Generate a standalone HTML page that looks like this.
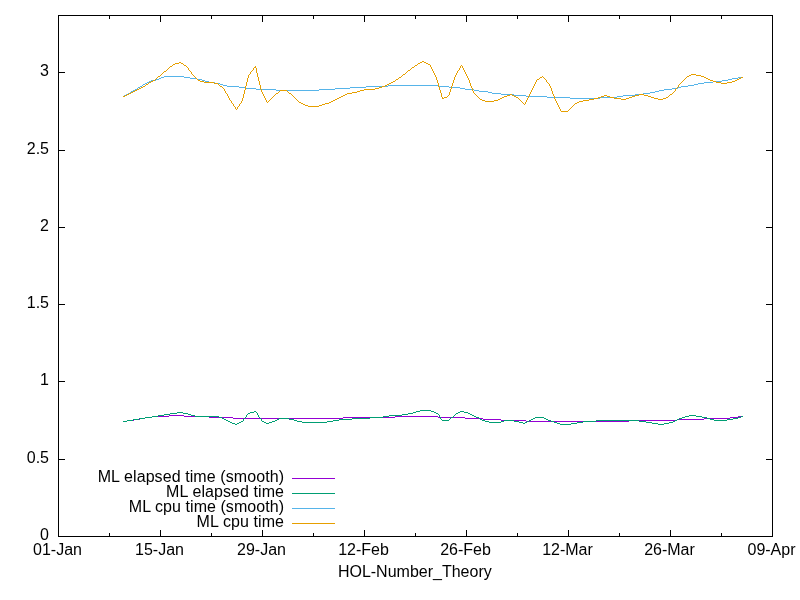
<!DOCTYPE html>
<html><head><meta charset="utf-8"><style>
html,body{margin:0;padding:0;background:#fff;width:800px;height:600px;overflow:hidden}
svg{display:block;will-change:transform}
text{font-family:"Liberation Sans",Arial,sans-serif;font-size:16px;fill:#000}
</style></head><body>
<svg width="800" height="600" viewBox="0 0 800 600">
<rect x="0" y="0" width="800" height="600" fill="#fff"/>
<path d="M59,459h6v1h-6zM766,459h6v1h-6zM59,381h6v1h-6zM766,381h6v1h-6zM59,304h6v1h-6zM766,304h6v1h-6zM59,227h6v1h-6zM766,227h6v1h-6zM59,150h6v1h-6zM766,150h6v1h-6zM59,72h6v1h-6zM766,72h6v1h-6zM109,533h1v3h-1zM109,16h1v3h-1zM160,530h1v6h-1zM160,16h1v6h-1zM211,533h1v3h-1zM211,16h1v3h-1zM262,530h1v6h-1zM262,16h1v6h-1zM313,533h1v3h-1zM313,16h1v3h-1zM364,530h1v6h-1zM364,16h1v6h-1zM415,533h1v3h-1zM415,16h1v3h-1zM466,530h1v6h-1zM466,16h1v6h-1zM517,533h1v3h-1zM517,16h1v3h-1zM568,530h1v6h-1zM568,16h1v6h-1zM619,533h1v3h-1zM619,16h1v3h-1zM670,530h1v6h-1zM670,16h1v6h-1zM721,533h1v3h-1zM721,16h1v3h-1zM58,15h715v1h-715zM58,536h715v1h-715zM58,16h1v520h-1zM772,16h1v520h-1z" fill="#000" shape-rendering="crispEdges"/>
<path d="M292,478h43v1h-43z" fill="#9400d3" shape-rendering="crispEdges"/>
<path d="M292,493h43v1h-43z" fill="#009e73" shape-rendering="crispEdges"/>
<path d="M292,508h43v1h-43z" fill="#56b4e9" shape-rendering="crispEdges"/>
<path d="M292,523h43v1h-43z" fill="#e69f00" shape-rendering="crispEdges"/>
<path d="M123,421h4v1h-4zM127,420h7v1h-7zM134,419h6v1h-6zM140,418h5v1h-5zM145,417h7v1h-7zM152,416h17v1h-17zM169,415h15v1h-15zM184,416h25v1h-25zM209,417h24v1h-24zM233,418h110v1h-110zM343,417h52v1h-52zM395,416h43v1h-43zM438,417h27v1h-27zM465,418h18v1h-18zM483,419h18v1h-18zM501,420h25v1h-25zM526,421h103v1h-103zM629,420h48v1h-48zM677,419h27v1h-27zM704,418h26v1h-26zM730,417h8v1h-8zM738,416h3v1h-3z" fill="#9400d3" shape-rendering="crispEdges"/>
<path d="M123,421h4v1h-4zM127,420h6v1h-6zM133,419h6v1h-6zM139,418h6v1h-6zM145,417h7v1h-7zM152,416h6v1h-6zM158,415h6v1h-6zM164,414h6v1h-6zM170,413h7v1h-7zM177,412h6v1h-6zM183,413h5v1h-5zM188,414h3v1h-3zM191,415h4v1h-4zM195,416h24v1h-24zM219,417h3v1h-3zM222,418h2v1h-2zM224,419h2v1h-2zM226,420h2v1h-2zM228,421h2v1h-2zM230,422h2v1h-2zM232,423h3v1h-3zM235,424h2v1h-2zM237,423h2v1h-2zM239,422h2v1h-2zM241,421h2v1h-2zM243,420h1v1h-1zM243,419h1v1h-1zM244,418h1v1h-1zM245,417h1v1h-1zM246,416h1v1h-1zM246,415h1v1h-1zM247,414h1v1h-1zM248,413h2v1h-2zM250,412h4v1h-4zM254,411h2v1h-2zM256,412h1v1h-1zM257,413h1v1h-1zM257,414h1v1h-1zM258,415h1v1h-1zM258,416h1v1h-1zM259,417h1v1h-1zM260,418h1v1h-1zM261,419h1v1h-1zM261,420h1v1h-1zM262,421h2v1h-2zM264,422h2v1h-2zM266,423h3v1h-3zM269,422h3v1h-3zM272,421h3v1h-3zM275,420h2v1h-2zM277,419h2v1h-2zM279,418h10v1h-10zM289,419h5v1h-5zM294,420h3v1h-3zM297,421h5v1h-5zM302,422h25v1h-25zM327,421h6v1h-6zM333,420h6v1h-6zM339,419h13v1h-13zM352,418h18v1h-18zM370,417h13v1h-13zM383,416h6v1h-6zM389,415h13v1h-13zM402,414h6v1h-6zM408,413h5v1h-5zM413,412h3v1h-3zM416,411h4v1h-4zM420,410h11v1h-11zM431,411h3v1h-3zM434,412h2v1h-2zM436,413h2v1h-2zM438,414h1v1h-1zM439,415h1v1h-1zM439,416h1v1h-1zM440,417h1v1h-1zM440,418h1v1h-1zM441,419h1v1h-1zM442,420h7v1h-7zM449,419h1v1h-1zM450,418h1v1h-1zM451,417h2v1h-2zM453,416h1v1h-1zM454,415h1v1h-1zM455,414h1v1h-1zM456,413h2v1h-2zM458,412h2v1h-2zM460,411h4v1h-4zM464,412h4v1h-4zM468,413h2v1h-2zM470,414h2v1h-2zM472,415h2v1h-2zM474,416h2v1h-2zM476,417h3v1h-3zM479,418h1v1h-1zM480,419h2v1h-2zM482,420h3v1h-3zM485,421h4v1h-4zM489,422h12v1h-12zM501,421h3v1h-3zM504,420h10v1h-10zM514,421h5v1h-5zM519,422h4v1h-4zM523,423h2v1h-2zM525,422h2v1h-2zM527,421h2v1h-2zM529,420h2v1h-2zM531,419h2v1h-2zM533,418h2v1h-2zM535,417h9v1h-9zM544,418h2v1h-2zM546,419h2v1h-2zM548,420h3v1h-3zM551,421h3v1h-3zM554,422h3v1h-3zM557,423h3v1h-3zM560,424h11v1h-11zM571,423h6v1h-6zM577,422h6v1h-6zM583,421h13v1h-13zM596,420h43v1h-43zM639,421h7v1h-7zM646,422h6v1h-6zM652,423h6v1h-6zM658,424h6v1h-6zM664,423h5v1h-5zM669,422h4v1h-4zM673,421h2v1h-2zM675,420h2v1h-2zM677,419h2v1h-2zM679,418h3v1h-3zM682,417h3v1h-3zM685,416h4v1h-4zM689,415h7v1h-7zM696,416h6v1h-6zM702,417h5v1h-5zM707,418h3v1h-3zM710,419h4v1h-4zM714,420h13v1h-13zM727,419h6v1h-6zM733,418h5v1h-5zM738,417h3v1h-3zM741,416h2v1h-2z" fill="#009e73" shape-rendering="crispEdges"/>
<path d="M124,95h2v1h-2zM126,94h2v1h-2zM128,93h2v1h-2zM130,92h1v1h-1zM131,91h2v1h-2zM133,90h2v1h-2zM135,89h2v1h-2zM137,88h1v1h-1zM138,87h2v1h-2zM140,86h2v1h-2zM142,85h1v1h-1zM143,84h2v1h-2zM145,83h2v1h-2zM147,82h2v1h-2zM149,81h2v1h-2zM151,80h5v1h-5zM156,79h3v1h-3zM159,78h2v1h-2zM161,77h3v1h-3zM164,76h20v1h-20zM184,77h6v1h-6zM190,78h7v1h-7zM197,79h5v1h-5zM202,80h3v1h-3zM205,81h4v1h-4zM209,82h6v1h-6zM215,83h5v1h-5zM220,84h3v1h-3zM223,85h4v1h-4zM227,86h12v1h-12zM239,87h6v1h-6zM245,88h11v1h-11zM256,89h20v1h-20zM276,90h43v1h-43zM319,89h16v1h-16zM335,88h15v1h-15zM350,87h16v1h-16zM366,86h22v1h-22zM388,85h50v1h-50zM438,86h11v1h-11zM449,87h11v1h-11zM460,88h5v1h-5zM465,89h9v1h-9zM474,90h5v1h-5zM479,91h9v1h-9zM488,92h4v1h-4zM492,93h9v1h-9zM501,94h13v1h-13zM514,95h12v1h-12zM526,96h21v1h-21zM547,97h23v1h-23zM570,98h30v1h-30zM600,97h17v1h-17zM617,96h6v1h-6zM623,95h12v1h-12zM635,94h8v1h-8zM643,93h7v1h-7zM650,92h5v1h-5zM655,91h4v1h-4zM659,90h5v1h-5zM664,89h8v1h-8zM672,88h6v1h-6zM678,87h3v1h-3zM681,86h7v1h-7zM688,85h6v1h-6zM694,84h4v1h-4zM698,83h6v1h-6zM704,82h9v1h-9zM713,81h9v1h-9zM722,80h6v1h-6zM728,79h4v1h-4zM732,78h6v1h-6zM738,77h3v1h-3z" fill="#56b4e9" shape-rendering="crispEdges"/>
<path d="M123,96h2v1h-2zM125,95h2v1h-2zM127,94h2v1h-2zM129,93h2v1h-2zM131,92h2v1h-2zM133,91h2v1h-2zM135,90h2v1h-2zM137,89h2v1h-2zM139,88h2v1h-2zM141,87h2v1h-2zM143,86h2v1h-2zM145,85h1v1h-1zM146,84h2v1h-2zM148,83h1v1h-1zM149,82h2v1h-2zM151,81h2v1h-2zM153,80h2v1h-2zM155,79h1v1h-1zM156,78h1v1h-1zM157,77h1v1h-1zM158,76h2v1h-2zM160,75h1v1h-1zM161,74h1v1h-1zM162,73h1v1h-1zM163,72h1v1h-1zM164,71h2v1h-2zM166,70h1v1h-1zM167,69h1v1h-1zM168,68h1v1h-1zM169,67h1v1h-1zM170,66h2v1h-2zM172,65h1v1h-1zM173,64h2v1h-2zM175,63h4v1h-4zM179,62h2v1h-2zM181,63h2v1h-2zM183,64h1v1h-1zM184,65h2v1h-2zM186,66h1v1h-1zM187,67h1v1h-1zM188,68h1v2h-1zM189,70h1v1h-1zM190,71h1v1h-1zM191,72h1v2h-1zM192,74h1v1h-1zM193,75h1v1h-1zM194,76h1v1h-1zM195,77h1v1h-1zM196,78h1v1h-1zM197,79h1v1h-1zM198,80h2v1h-2zM200,81h4v1h-4zM204,82h10v1h-10zM214,83h4v1h-4zM218,84h1v1h-1zM219,85h1v1h-1zM220,86h2v1h-2zM222,87h1v1h-1zM223,88h1v1h-1zM224,89h1v2h-1zM225,91h1v2h-1zM226,93h1v1h-1zM227,94h1v2h-1zM228,96h1v2h-1zM229,98h1v2h-1zM230,100h1v1h-1zM231,101h1v2h-1zM232,103h1v1h-1zM233,104h1v2h-1zM234,106h1v1h-1zM235,107h1v2h-1zM236,109h1v1h-1zM237,107h1v2h-1zM238,106h1v1h-1zM239,104h1v2h-1zM240,103h1v1h-1zM241,101h1v2h-1zM242,98h1v3h-1zM243,94h1v4h-1zM244,90h1v4h-1zM245,86h1v4h-1zM246,82h1v4h-1zM247,78h1v4h-1zM248,75h1v3h-1zM249,74h1v1h-1zM250,72h1v2h-1zM251,71h1v1h-1zM252,70h1v1h-1zM253,68h1v2h-1zM254,67h1v1h-1zM255,66h1v2h-1zM256,68h1v5h-1zM257,73h1v4h-1zM258,77h1v4h-1zM259,81h1v4h-1zM260,85h1v4h-1zM261,89h1v3h-1zM262,92h1v2h-1zM263,94h1v2h-1zM264,96h1v2h-1zM265,98h1v2h-1zM266,100h1v2h-1zM267,102h1v1h-1zM268,101h1v1h-1zM269,100h1v1h-1zM270,99h1v1h-1zM271,98h1v1h-1zM272,97h1v1h-1zM273,96h1v1h-1zM274,95h1v1h-1zM275,94h1v1h-1zM276,93h2v1h-2zM278,92h1v1h-1zM279,91h1v1h-1zM280,90h7v1h-7zM287,91h1v1h-1zM288,92h1v1h-1zM289,93h2v1h-2zM291,94h1v1h-1zM292,95h1v1h-1zM293,96h1v1h-1zM294,97h1v1h-1zM295,98h1v1h-1zM296,99h1v1h-1zM297,100h1v1h-1zM298,101h1v1h-1zM299,102h2v1h-2zM301,103h2v1h-2zM303,104h2v1h-2zM305,105h3v1h-3zM308,106h11v1h-11zM319,105h3v1h-3zM322,104h3v1h-3zM325,103h4v1h-4zM329,102h2v1h-2zM331,101h2v1h-2zM333,100h2v1h-2zM335,99h2v1h-2zM337,98h2v1h-2zM339,97h2v1h-2zM341,96h2v1h-2zM343,95h2v1h-2zM345,94h2v1h-2zM347,93h5v1h-5zM352,92h5v1h-5zM357,91h3v1h-3zM360,90h4v1h-4zM364,89h11v1h-11zM375,88h4v1h-4zM379,87h3v1h-3zM382,86h3v1h-3zM385,85h2v1h-2zM387,84h2v1h-2zM389,83h2v1h-2zM391,82h2v1h-2zM393,81h2v1h-2zM395,80h1v1h-1zM396,79h2v1h-2zM398,78h1v1h-1zM399,77h2v1h-2zM401,76h1v1h-1zM402,75h1v1h-1zM403,74h2v1h-2zM405,73h1v1h-1zM406,72h1v1h-1zM407,71h1v1h-1zM408,70h2v1h-2zM410,69h1v1h-1zM411,68h1v1h-1zM412,67h2v1h-2zM414,66h1v1h-1zM415,65h2v1h-2zM417,64h1v1h-1zM418,63h2v1h-2zM420,62h2v1h-2zM422,61h2v1h-2zM424,62h2v1h-2zM426,63h2v1h-2zM428,64h2v1h-2zM430,65h1v2h-1zM431,67h1v2h-1zM432,69h1v2h-1zM433,71h1v2h-1zM434,73h1v2h-1zM435,75h1v2h-1zM436,77h1v3h-1zM437,80h1v3h-1zM438,83h1v4h-1zM439,87h1v3h-1zM440,90h1v3h-1zM441,93h1v4h-1zM442,97h1v2h-1zM443,98h1v1h-1zM444,97h3v1h-3zM447,96h1v1h-1zM448,95h1v1h-1zM449,92h1v3h-1zM450,89h1v3h-1zM451,86h1v3h-1zM452,83h1v3h-1zM453,80h1v3h-1zM454,77h1v3h-1zM455,75h1v2h-1zM456,73h1v2h-1zM457,71h1v2h-1zM458,70h1v1h-1zM459,68h1v2h-1zM460,66h1v2h-1zM461,65h1v1h-1zM462,66h1v2h-1zM463,68h1v2h-1zM464,70h1v2h-1zM465,72h1v2h-1zM466,74h1v2h-1zM467,76h1v2h-1zM468,78h1v2h-1zM469,80h1v3h-1zM470,83h1v3h-1zM471,86h1v2h-1zM472,88h1v3h-1zM473,91h1v2h-1zM474,93h1v1h-1zM475,94h1v1h-1zM476,95h1v1h-1zM477,96h1v1h-1zM478,97h1v1h-1zM479,98h1v1h-1zM480,99h2v1h-2zM482,100h3v1h-3zM485,101h9v1h-9zM494,100h4v1h-4zM498,99h2v1h-2zM500,98h2v1h-2zM502,97h2v1h-2zM504,96h3v1h-3zM507,95h3v1h-3zM510,94h2v1h-2zM512,95h2v1h-2zM514,96h2v1h-2zM516,97h2v1h-2zM518,98h1v1h-1zM519,99h1v1h-1zM520,100h1v1h-1zM521,101h1v1h-1zM522,102h1v1h-1zM523,103h1v1h-1zM524,104h1v1h-1zM525,102h1v2h-1zM526,100h1v2h-1zM527,98h1v2h-1zM528,96h1v2h-1zM529,94h1v2h-1zM530,92h1v2h-1zM531,90h1v2h-1zM532,88h1v2h-1zM533,86h1v2h-1zM534,84h1v2h-1zM535,82h1v2h-1zM536,80h1v2h-1zM537,79h2v1h-2zM539,78h1v1h-1zM540,77h2v1h-2zM542,76h1v1h-1zM543,77h1v1h-1zM544,78h1v1h-1zM545,79h1v1h-1zM546,80h1v2h-1zM547,82h1v1h-1zM548,83h1v1h-1zM549,84h1v2h-1zM550,86h1v2h-1zM551,88h1v3h-1zM552,91h1v3h-1zM553,94h1v2h-1zM554,96h1v3h-1zM555,99h1v2h-1zM556,101h1v2h-1zM557,103h1v2h-1zM558,105h1v2h-1zM559,107h1v2h-1zM560,109h1v2h-1zM561,111h7v1h-7zM568,110h1v1h-1zM569,109h1v1h-1zM570,108h1v1h-1zM571,107h1v1h-1zM572,106h1v1h-1zM573,105h1v1h-1zM574,104h1v1h-1zM575,103h2v1h-2zM577,102h2v1h-2zM579,101h4v1h-4zM583,100h6v1h-6zM589,99h5v1h-5zM594,98h4v1h-4zM598,97h3v1h-3zM601,96h3v1h-3zM604,95h3v1h-3zM607,96h3v1h-3zM610,97h4v1h-4zM614,98h7v1h-7zM621,99h5v1h-5zM626,98h3v1h-3zM629,97h3v1h-3zM632,96h3v1h-3zM635,95h4v1h-4zM639,94h5v1h-5zM644,95h4v1h-4zM648,96h3v1h-3zM651,97h3v1h-3zM654,98h4v1h-4zM658,99h5v1h-5zM663,98h3v1h-3zM666,97h2v1h-2zM668,96h1v1h-1zM669,95h1v1h-1zM670,94h2v1h-2zM672,93h1v1h-1zM673,92h1v1h-1zM674,91h1v1h-1zM675,89h1v2h-1zM676,88h1v1h-1zM677,87h1v1h-1zM678,85h1v2h-1zM679,84h1v1h-1zM680,83h1v1h-1zM681,82h1v1h-1zM682,81h1v1h-1zM683,80h1v1h-1zM684,79h1v1h-1zM685,78h1v1h-1zM686,77h1v1h-1zM687,76h2v1h-2zM689,75h2v1h-2zM691,74h5v1h-5zM696,75h5v1h-5zM701,76h3v1h-3zM704,77h2v1h-2zM706,78h2v1h-2zM708,79h2v1h-2zM710,80h3v1h-3zM713,81h3v1h-3zM716,82h5v1h-5zM721,83h6v1h-6zM727,82h5v1h-5zM732,81h3v1h-3zM735,80h2v1h-2zM737,79h2v1h-2zM739,78h2v1h-2zM741,77h2v1h-2z" fill="#e69f00" shape-rendering="crispEdges"/>
<g>
<text x="49" y="539.75" text-anchor="end">0</text>
<text x="49" y="462.75" text-anchor="end">0.5</text>
<text x="49" y="384.75" text-anchor="end">1</text>
<text x="49" y="307.75" text-anchor="end">1.5</text>
<text x="49" y="230.75" text-anchor="end">2</text>
<text x="49" y="153.75" text-anchor="end">2.5</text>
<text x="49" y="75.75" text-anchor="end">3</text>
<text x="57.5" y="555" text-anchor="middle">01-Jan</text>
<text x="159.5" y="555" text-anchor="middle">15-Jan</text>
<text x="261.5" y="555" text-anchor="middle">29-Jan</text>
<text x="363.5" y="555" text-anchor="middle">12-Feb</text>
<text x="465.5" y="555" text-anchor="middle">26-Feb</text>
<text x="567.5" y="555" text-anchor="middle">12-Mar</text>
<text x="669.5" y="555" text-anchor="middle">26-Mar</text>
<text x="771.5" y="555" text-anchor="middle">09-Apr</text>
<text x="414.8" y="577" text-anchor="middle">HOL-Number_Theory</text>
<text x="284" y="481.5" text-anchor="end" textLength="186.3" lengthAdjust="spacing">ML elapsed time (smooth)</text>
<text x="284" y="496.5" text-anchor="end" textLength="117.9" lengthAdjust="spacing">ML elapsed time</text>
<text x="284" y="511.5" text-anchor="end" textLength="155.2" lengthAdjust="spacing">ML cpu time (smooth)</text>
<text x="284" y="526.5" text-anchor="end" textLength="87.4" lengthAdjust="spacing">ML cpu time</text>
</g>
</svg>
</body></html>
